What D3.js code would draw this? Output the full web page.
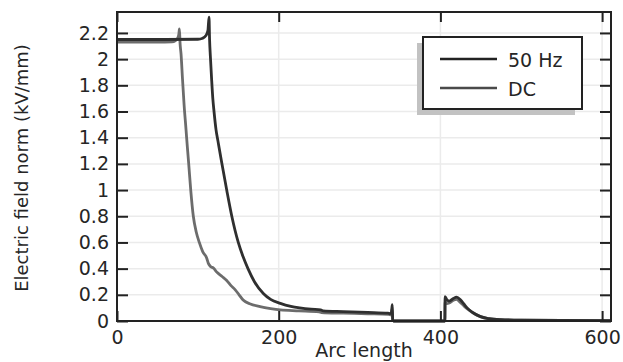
<!DOCTYPE html>
<html lang="en">
<head>
    <meta charset="UTF-8">
    <title>Electric field norm</title>
    <script src="https://d3js.org/d3.v7.min.js"></script>
    <style>
        body { margin: 0; background: #fff; }
        text { font-family: "DejaVu Sans", sans-serif; fill: #262626; }
    </style>
</head>
<body>
<svg id="svg" width="623" height="362"></svg>

<script>

// series names and colours
let seriesNames = ['50 Hz', 'DC'];
let seriesColors = ['#2f2f2f', '#6c6c6c'];

// 50 Hz curve: arc length / field norm (kV/mm)
let hz50X = [0, 60, 100, 106, 110, 112.5, 113.8, 114.5, 115.5, 117, 118.5, 120, 122.5, 125, 129.5, 135.7,
    142, 150, 156, 162, 170, 181, 190, 202, 215, 226, 240, 252, 255, 280, 310, 335, 338, 339.5, 340.5, 341, 342,
    404, 405.5, 405.8, 408, 411, 416, 420, 425, 429, 433, 440, 449, 460, 474, 500, 550, 610];
let hz50Y = [2.15, 2.15, 2.152, 2.16, 2.18, 2.22, 2.32, 2.15, 2.02, 1.85, 1.70, 1.60, 1.46, 1.37, 1.21, 1.0,
    0.8, 0.6, 0.49, 0.4, 0.3, 0.21, 0.165, 0.135, 0.112, 0.1, 0.09, 0.085, 0.077, 0.072, 0.066, 0.06, 0.056, 0.07, 0.125, 0.01, 0,
    0, 0, 0.186, 0.162, 0.152, 0.172, 0.182, 0.16, 0.13, 0.1, 0.065, 0.035, 0.018, 0.01, 0.006, 0.004, 0.003];

// DC curve
let dcX = [0, 50, 68, 72, 75, 76.5, 77.2, 78, 79.2, 81, 83, 85.4, 87, 88.7, 91.2, 94.4, 98, 101.8, 106, 111,
    113, 116, 119, 124, 130, 135.7, 141, 146, 151, 156, 165, 177, 190, 202, 225, 250, 253, 280, 310, 336, 339, 340.2, 341, 342,
    404, 405.5, 405.8, 408, 411, 416, 420, 425, 430, 435, 442, 450, 460, 475, 500, 550, 610];
let dcY = [2.13, 2.13, 2.132, 2.14, 2.16, 2.19, 2.23, 2.12, 2.04, 1.85, 1.65, 1.46, 1.33, 1.2, 1.0, 0.8, 0.68, 0.6, 0.53, 0.48,
    0.44, 0.415, 0.405, 0.37, 0.34, 0.31, 0.27, 0.24, 0.2, 0.16, 0.13, 0.11, 0.095, 0.085, 0.078, 0.07, 0.065, 0.06, 0.055, 0.05, 0.046, 0.09, 0.01, 0,
    0, 0, 0.145, 0.133, 0.138, 0.158, 0.165, 0.14, 0.11, 0.085, 0.055, 0.032, 0.018, 0.01, 0.006, 0.004, 0.003];

let xTicks = [0, 200, 400, 600];
let yTicks = [0, 0.2, 0.4, 0.6, 0.8, 1, 1.2, 1.4, 1.6, 1.8, 2, 2.2];

let svg = d3.select('#svg');

let plotLeft = 117, plotRight = 611, plotTop = 12, plotBottom = 321;

let x = d3.scaleLinear().domain([0, 611]).range([plotLeft, plotRight]);
let y = d3.scaleLinear().domain([0, 2.36]).range([plotBottom, plotTop]);

// grid
let grid = svg.append('g');
grid.selectAll('.gy').data(yTicks).enter().append('line')
    .attr('x1', plotLeft).attr('x2', plotRight)
    .attr('y1', d => y(d)).attr('y2', d => y(d))
    .attr('stroke', '#ebebeb').attr('stroke-width', 1.5);
grid.selectAll('.gx').data(xTicks).enter().append('line')
    .attr('x1', d => x(d)).attr('x2', d => x(d))
    .attr('y1', plotTop).attr('y2', plotBottom)
    .attr('stroke', '#ebebeb').attr('stroke-width', 1.5);

// curves
let series = [
    {name: seriesNames[0], xs: hz50X, ys: hz50Y, color: seriesColors[0]},
    {name: seriesNames[1], xs: dcX, ys: dcY, color: seriesColors[1]}
];

let line = d3.line()
    .x(d => x(d[0]))
    .y(d => y(d[1]))
    .curve(d3.curveMonotoneX);

// draw DC under 50 Hz
series.slice().reverse().forEach(s => {
    svg.append('path')
        .datum(d3.zip(s.xs, s.ys))
        .attr('d', line)
        .attr('fill', 'none')
        .attr('stroke', s.color)
        .attr('stroke-width', 2.8)
        .attr('stroke-linejoin', 'round');
});

// axes
function styleAxis(g) {
    g.select('.domain').remove();
    g.selectAll('.tick line').attr('stroke', '#222').attr('stroke-width', 2);
    g.selectAll('.tick text').attr('font-size', 19).attr('fill', '#262626')
        .attr('font-family', '"DejaVu Sans", sans-serif');
}

svg.append('g')
    .attr('transform', `translate(${plotLeft},0)`)
    .call(d3.axisLeft(y).tickValues(yTicks).tickSize(-11).tickPadding(8).tickFormat(d3.format('~g')))
    .call(styleAxis);

svg.append('g')
    .attr('transform', `translate(${plotRight},0)`)
    .call(d3.axisRight(y).tickValues(yTicks).tickSize(-11).tickFormat(''))
    .call(styleAxis);

svg.append('g')
    .attr('transform', `translate(0,${plotBottom})`)
    .call(d3.axisBottom(x).tickValues(xTicks).tickSize(-10).tickPadding(9.5))
    .call(styleAxis);

svg.append('g')
    .attr('transform', `translate(0,${plotTop})`)
    .call(d3.axisTop(x).tickValues(xTicks).tickSize(-10).tickFormat(''))
    .call(styleAxis);

// frame
svg.append('rect')
    .attr('x', plotLeft).attr('y', plotTop)
    .attr('width', plotRight - plotLeft).attr('height', plotBottom - plotTop)
    .attr('fill', 'none').attr('stroke', '#222').attr('stroke-width', 2);

// axis titles
svg.append('text')
    .attr('x', 364).attr('y', 357)
    .attr('text-anchor', 'middle')
    .attr('font-size', 19)
    .text('Arc length');

svg.append('text')
    .attr('transform', 'translate(28,168) rotate(-90)')
    .attr('text-anchor', 'middle')
    .attr('font-size', 18)
    .text('Electric field norm (kV/mm)');

// legend
let legend = svg.append('g');
legend.append('rect')
    .attr('x', 417).attr('y', 43).attr('width', 158).attr('height', 72)
    .attr('fill', '#c2c2c2');
legend.append('rect')
    .attr('x', 423).attr('y', 37).attr('width', 159).attr('height', 72)
    .attr('fill', '#fff').attr('stroke', '#222').attr('stroke-width', 2);

series.forEach((s, i) => {
    let ly = 59 + i * 29;
    legend.append('line')
        .attr('x1', 440).attr('x2', 497)
        .attr('y1', ly).attr('y2', ly)
        .attr('stroke', i === 0 ? '#222' : '#4a4a4a')
        .attr('stroke-width', 2.6);
    legend.append('text')
        .attr('x', 508).attr('y', ly + 7.5)
        .attr('font-size', 19)
        .text(s.name);
});

</script>
</body>
</html>
